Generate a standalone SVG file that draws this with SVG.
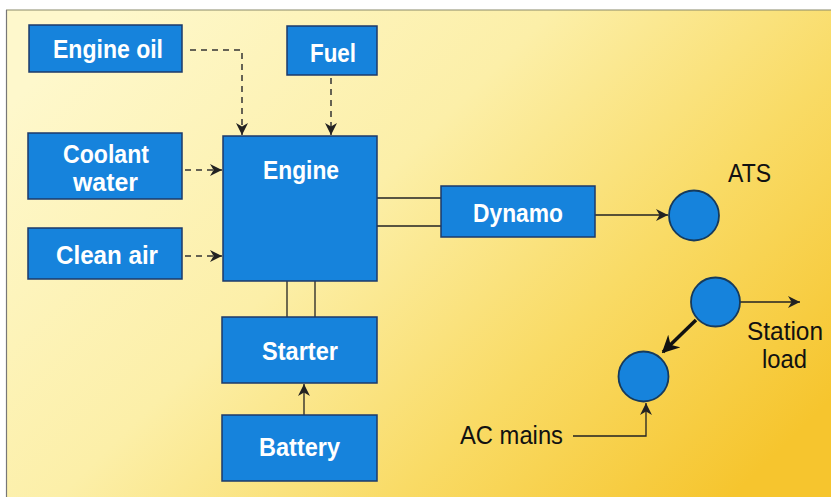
<svg xmlns="http://www.w3.org/2000/svg" width="831" height="500" viewBox="0 0 831 500">
<defs>
<linearGradient id="bg" x1="0" y1="0.2" x2="1" y2="0.8">
<stop offset="0" stop-color="#fef8cc"/>
<stop offset="0.4" stop-color="#fcefa8"/>
<stop offset="0.7" stop-color="#f9db66"/>
<stop offset="1" stop-color="#f6c52e"/>
</linearGradient>
<marker id="ah" viewBox="0 0 10 10" refX="10" refY="5" markerWidth="12" markerHeight="12" markerUnits="userSpaceOnUse" orient="auto">
<path d="M0,0 L10,5 L0,10 L3,5 Z" fill="#222"/>
</marker>
<marker id="ahb" viewBox="0 0 10 10" refX="9" refY="5" markerWidth="5" markerHeight="5" orient="auto">
<path d="M0,0 L10,5 L0,10 L3,5 Z" fill="#111"/>
</marker>
</defs>
<style>
.box{fill:#1683dc;stroke:#1c3a6a;stroke-width:1.5}
.circ{fill:#1683dc;stroke:#163a5c;stroke-width:1.8}
.bt{font-family:"Liberation Sans",Arial,sans-serif;font-weight:bold;font-size:26px;fill:#ffffff;text-anchor:middle}
.lt{font-family:"Liberation Sans",Arial,sans-serif;font-size:25px;fill:#111111}
.dash{fill:none;stroke:#333;stroke-width:1.5;stroke-dasharray:6,5}
.sol{fill:none;stroke:#222;stroke-width:1.3}
</style>
<rect x="0" y="0" width="831" height="500" fill="#ffffff"/>
<rect x="6" y="10" width="825" height="487" fill="url(#bg)"/>
<line x1="6" y1="10" x2="831" y2="10" stroke="#8a8a6a" stroke-width="1.2"/>
<line x1="6.5" y1="10" x2="6.5" y2="497" stroke="#777" stroke-width="1.2"/>

<g id="connectors">
<path class="dash" d="M190,50 H242 V135" marker-end="url(#ah)"/>
<path class="dash" d="M331,78 V135" marker-end="url(#ah)"/>
<path class="dash" d="M185,170 H222" marker-end="url(#ah)"/>
<path class="dash" d="M185,256 H222" marker-end="url(#ah)"/>
<line class="sol" x1="377" y1="198" x2="441" y2="198"/>
<line class="sol" x1="377" y1="226" x2="441" y2="226"/>
<line class="sol" x1="287" y1="281" x2="287" y2="317"/>
<line class="sol" x1="315" y1="281" x2="315" y2="317"/>
<path class="sol" d="M304,415 V384" marker-end="url(#ah)"/>
<path class="sol" d="M595,215 H668" marker-end="url(#ah)"/>
<path class="sol" d="M740,302 H800" marker-end="url(#ah)"/>
<line x1="696" y1="320" x2="663" y2="352" stroke="#111" stroke-width="3.5" marker-end="url(#ahb)"/>
<path class="sol" d="M573,436 H646 V403" marker-end="url(#ah)"/>
</g>

<g id="engine-oil"><rect class="box" x="29" y="25" width="153" height="47"/><text class="bt" x="108" y="58" textLength="110" lengthAdjust="spacingAndGlyphs">Engine oil</text></g>
<g id="fuel"><rect class="box" x="287" y="26" width="90" height="49"/><text class="bt" x="333" y="62" textLength="46" lengthAdjust="spacingAndGlyphs">Fuel</text></g>
<g id="coolant-water"><rect class="box" x="28" y="133" width="154" height="66"/><text class="bt" x="106" y="163" textLength="86" lengthAdjust="spacingAndGlyphs">Coolant</text><text class="bt" x="105.5" y="191" textLength="65" lengthAdjust="spacingAndGlyphs">water</text></g>
<g id="clean-air"><rect class="box" x="28" y="228" width="154" height="51"/><text class="bt" x="107" y="264" textLength="102" lengthAdjust="spacingAndGlyphs">Clean air</text></g>
<g id="engine"><rect class="box" x="223" y="136" width="154" height="145"/><text class="bt" x="301" y="179" textLength="76" lengthAdjust="spacingAndGlyphs">Engine</text></g>
<g id="dynamo"><rect class="box" x="441" y="186" width="154" height="51"/><text class="bt" x="518" y="222" textLength="90" lengthAdjust="spacingAndGlyphs">Dynamo</text></g>
<g id="starter"><rect class="box" x="222" y="317" width="155" height="66"/><text class="bt" x="300" y="360" textLength="76" lengthAdjust="spacingAndGlyphs">Starter</text></g>
<g id="battery"><rect class="box" x="222" y="415" width="155" height="66"/><text class="bt" x="299.5" y="456" textLength="81" lengthAdjust="spacingAndGlyphs">Battery</text></g>
<g id="ats"><circle class="circ" cx="694" cy="215.5" r="25"/><text class="lt" x="728" y="182" textLength="43" lengthAdjust="spacingAndGlyphs">ATS</text></g>
<g id="station-switch"><circle class="circ" cx="715.5" cy="302" r="24.5"/></g>
<g id="station-load"><text class="lt" x="785" y="340" text-anchor="middle" textLength="76" lengthAdjust="spacingAndGlyphs">Station</text><text class="lt" x="784.5" y="368" text-anchor="middle" textLength="45" lengthAdjust="spacingAndGlyphs">load</text></g>
<g id="ac-mains-switch"><circle class="circ" cx="643.5" cy="376.5" r="25"/></g>
<g id="ac-mains"><text class="lt" x="460" y="444" textLength="103" lengthAdjust="spacingAndGlyphs">AC mains</text></g>
</svg>
